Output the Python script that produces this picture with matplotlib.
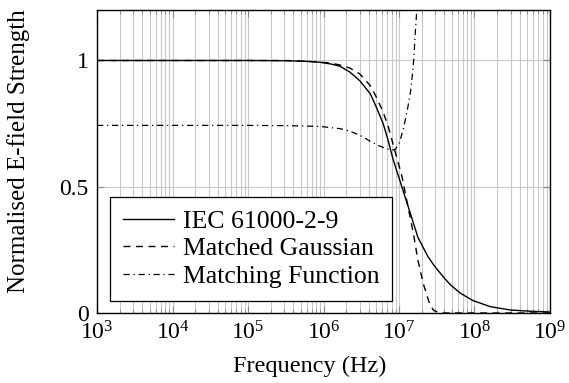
import numpy as np
import matplotlib
matplotlib.use("Agg")
import matplotlib.pyplot as plt
from matplotlib.ticker import LogLocator, FixedLocator

plt.rcParams['font.family'] = ['Liberation Serif', 'DejaVu Serif']
plt.rcParams['mathtext.fontset'] = 'stix'
plt.rcParams['font.size'] = 17

# log10 of frequency (Hz) and normalised values
iec_logf = [3, 4, 5, 5.5, 5.75, 5.95, 6.1, 6.22, 6.35, 6.48, 6.62, 6.7, 6.79, 6.85, 6.92,
            7.01, 7.08, 7.15, 7.25, 7.38, 7.46, 7.54, 7.61, 7.68, 7.81, 7.98, 8.21, 8.47, 8.74, 9.0]
iec_val = [1.0, 1.0, 1.0, 0.999, 0.997, 0.993, 0.986, 0.977, 0.954, 0.92, 0.868, 0.815, 0.75, 0.69, 0.61,
           0.526, 0.46, 0.395, 0.30, 0.225, 0.19, 0.16, 0.135, 0.112, 0.079, 0.049, 0.025, 0.012, 0.007, 0.004]

gauss_logf = [3, 4, 5, 5.5, 5.9, 6.09, 6.22, 6.35, 6.48, 6.62, 6.7, 6.79, 6.86, 6.92, 6.98,
              7.04, 7.12, 7.19, 7.25, 7.32, 7.41, 7.46, 7.55, 9.0]
gauss_val = [1.0, 1.0, 1.0, 1.0, 0.995, 0.99, 0.982, 0.97, 0.947, 0.90, 0.855, 0.796, 0.736, 0.67, 0.605,
             0.54, 0.42, 0.316, 0.21, 0.118, 0.032, 0.01, 0.0, 0.0]

match_logf = [3, 4, 5, 5.5, 5.95, 6.22, 6.35, 6.48, 6.62, 6.72, 6.84, 6.9, 6.95, 7.0, 7.04,
              7.08, 7.12, 7.16, 7.18, 7.2, 7.21, 7.225, 7.235, 7.245]
match_val = [0.743, 0.743, 0.743, 0.742, 0.739, 0.73, 0.72, 0.704, 0.68, 0.664, 0.65, 0.645, 0.648, 0.67, 0.71,
             0.76, 0.82, 0.89, 0.954, 1.02, 1.087, 1.15, 1.2, 1.25]

fig = plt.figure(figsize=(5.69, 3.83), dpi=100)
ax = fig.add_axes([0.1705, 0.1828, 0.7961, 0.7911])

ax.plot(10 ** np.array(iec_logf), iec_val, color='black', lw=1.0, label='IEC 61000-2-9')
ax.plot(10 ** np.array(gauss_logf), gauss_val, color='black', lw=1.0, dashes=(5, 4), label='Matched Gaussian')
ax.plot(10 ** np.array(match_logf), match_val, color='black', lw=0.9, dashes=(5, 3, 1, 3), label='Matching Function')

ax.set_xscale('log')
ax.set_xlim(1e3, 1e9)
ax.set_ylim(0, 1.2)
ax.xaxis.set_major_locator(LogLocator(base=10, numticks=20))
ax.xaxis.set_minor_locator(LogLocator(base=10, subs=np.arange(2, 10), numticks=100))
ax.yaxis.set_major_locator(FixedLocator([0, 0.5, 1]))
ax.set_yticklabels(['0', '0.5', '1'])

ax.grid(True, which='major', color='#c8c8c8', lw=0.8)
ax.grid(True, which='minor', axis='x', color='#c8c8c8', lw=0.8)
ax.set_axisbelow(True)

ax.tick_params(which='both', direction='in', top=True, right=True, color='#888888')
ax.tick_params(which='major', length=5, pad=6)
ax.tick_params(which='minor', length=3)
for s in ax.spines.values():
    s.set_linewidth(1.0)

ax.set_xlabel('Frequency (Hz)', fontsize=17.5)
ax.set_ylabel('Normalised E-field Strength', fontsize=18)
ax.xaxis.set_label_coords(0.47, -0.14)
ax.yaxis.set_label_coords(-0.148, 0.535)

leg = ax.legend(loc='lower left', bbox_to_anchor=(0.028, 0.04), borderaxespad=0,
                fancybox=False, framealpha=1, edgecolor='black', handlelength=2.0,
                handletextpad=0.35, labelspacing=0.18, borderpad=0.5, fontsize=18.5)
leg.get_frame().set_linewidth(0.9)

fig.savefig('out.png', dpi=100)
